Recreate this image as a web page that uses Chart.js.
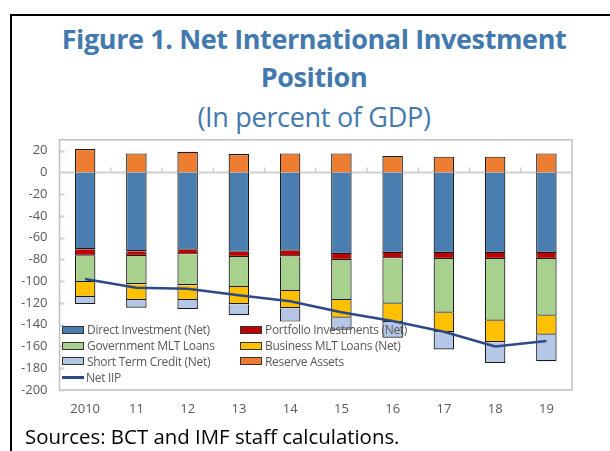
<!DOCTYPE html>
<html>
<head>
<meta charset="utf-8">
<script src="https://cdn.jsdelivr.net/npm/chart.js@4"></script>
<style>
  html, body { margin: 0; padding: 0; background: #fff; }
  body { width: 610px; height: 451px; position: relative; overflow: hidden; font-family: "Open Sans", sans-serif; }
  #frame { position: absolute; left: 10px; top: 14px; width: 620px; height: 460px; border-left: 2px solid #000; border-top: 2px solid #000; }
  .title { position: absolute; left: 12px; width: 604px; text-align: center; color: #4279AE; white-space: nowrap; }
  #t1 { top: 20px; font-size: 27px; font-weight: 700; letter-spacing: -0.4px; }
  #t2 { top: 58px; font-size: 27px; font-weight: 700; letter-spacing: -0.4px; }
  #t3 { top: 98px; font-size: 27px; font-weight: 400; letter-spacing: -0.3px; }
  #chart { position: absolute; left: 0; top: 120px; }
  #legend { position: absolute; left: 62px; top: 322px; display: grid; grid-template-columns: 178px 200px; font-size: 12px; letter-spacing: -0.3px; color: #595959; }
  .item { display: flex; align-items: center; height: 15.8px; white-space: nowrap; }
  .box { width: 20px; height: 6px; border: 1px solid #333; margin-right: 3px; flex: none; }
  .ln { width: 22px; height: 3px; margin-right: 2px; flex: none; }
  #src { position: absolute; left: 25px; top: 422px; font-size: 20.4px; color: #000; white-space: nowrap; }
</style>
</head>
<body>
<div id="frame"></div>
<div class="title" id="t1">Figure 1. Net International Investment</div>
<div class="title" id="t2">Position</div>
<div class="title" id="t3">(In percent of GDP)</div>
<canvas id="chart" width="610" height="305"></canvas>
<div id="legend"></div>
<div id="src">Sources: BCT and IMF staff calculations.</div>
<script>
// values, percent of GDP
const years = ["2010", "11", "12", "13", "14", "15", "16", "17", "18", "19"];
const directInv   = [-70.5, -72.5, -71, -73, -72, -75, -74, -74, -74, -74];
const portfolio   = [-6, -4.3, -4.3, -4.7, -5.3, -5.5, -5, -5.6, -5.6, -5.6];
const govLoans    = [-24.2, -26, -28.3, -27.7, -31.7, -36.7, -41.6, -49.3, -56.7, -52.1];
const bizLoans    = [-13.8, -14.4, -13.6, -15.7, -15.8, -16.3, -16.9, -17.9, -19.7, -17.5];
const shortTerm   = [-6.4, -7.1, -8.3, -10.1, -12.3, -11.1, -14.5, -16, -19.1, -24.4];
const reserves    = [21.5, 17.5, 19, 17, 17.5, 17.5, 15, 14.5, 14.5, 17.5];
const netIip      = [-98, -106, -107, -113, -118.5, -128.5, -136.5, -146.5, -160, -155];
const yTicks      = [-200, -180, -160, -140, -120, -100, -80, -60, -40, -20, 0, 20];

const barSeries = [
  { label: "Direct Investment (Net)", data: directInv, color: "#4A7EB0" },
  { label: "Portfolio Investments (Net)", data: portfolio, color: "#C00000" },
  { label: "Government MLT Loans", data: govLoans, color: "#A9D18E" },
  { label: "Business MLT Loans (Net)", data: bizLoans, color: "#FFC000" },
  { label: "Short Term Credit (Net)", data: shortTerm, color: "#B4C7E7" },
  { label: "Reserve Assets", data: reserves, color: "#ED7D31" }
];
const lineColor = "#2E4A86";

// plot box, zero line and small tick marks like the Excel original
const plotFrame = {
  id: "plotFrame",
  beforeDatasetsDraw(chart) {
    const { ctx, chartArea: a, scales: { x, y } } = chart;
    ctx.save();
    ctx.strokeStyle = "#BFBFBF";
    ctx.lineWidth = 1.5;
    ctx.strokeRect(a.left, a.top, a.width, a.height);
    const z = y.getPixelForValue(0);
    ctx.strokeStyle = "#D0D0D0";
    ctx.lineWidth = 2;
    ctx.beginPath();
    ctx.moveTo(a.left, z); ctx.lineTo(a.right, z);
    yTicks.forEach(v => {
      const py = Math.round(y.getPixelForValue(v)) + 0.5;
      ctx.moveTo(a.left, py); ctx.lineTo(a.left + 5, py);
    });
    ctx.stroke();
    ctx.lineWidth = 1.5;
    ctx.beginPath();
    for (let i = 1; i < years.length; i++) {
      const px = (x.getPixelForTick(i - 1) + x.getPixelForTick(i)) / 2;
      ctx.moveTo(px, z); ctx.lineTo(px, z - 5);
    }
    ctx.stroke();
    ctx.restore();
  }
};

const chart = new Chart(document.getElementById("chart"), {
  type: "bar",
  data: {
    labels: years,
    datasets: [
      {
        type: "line",
        label: "Net IIP",
        data: netIip,
        borderColor: lineColor,
        borderWidth: 2.5,
        pointRadius: 0,
        tension: 0,
        stack: "iip",
        order: 0
      },
      ...barSeries.map(s => ({
        label: s.label,
        data: s.data,
        backgroundColor: s.color,
        borderColor: "#1A1A1A",
        borderWidth: 1.2,
        barPercentage: 0.4,
        categoryPercentage: 1,
        stack: "s1",
        order: 1
      }))
    ]
  },
  options: {
    responsive: false,
    animation: false,
    layout: { padding: { top: 7.5, right: 38, left: 0, bottom: 0 } },
    plugins: { legend: { display: false }, tooltip: { enabled: false } },
    scales: {
      x: {
        stacked: true,
        grid: { display: false, drawTicks: false },
        border: { display: false },
        ticks: { color: "#595959", font: { family: "Open Sans", size: 13 }, padding: 11, maxRotation: 0 },
        afterFit(s) { s.height = 35; }
      },
      y: {
        stacked: true,
        min: -200,
        max: 30,
        grid: { display: false, drawTicks: false },
        border: { display: false },
        afterBuildTicks(s) { s.ticks = yTicks.map(v => ({ value: v })); },
        ticks: { color: "#595959", font: { family: "Open Sans", size: 13 }, padding: 12 },
        afterFit(s) { s.width = 59.5; }
      }
    }
  },
  plugins: [plotFrame]
});

// two-column legend inside the plot, in the original's order
const legend = document.getElementById("legend");
barSeries.forEach(s => {
  const el = document.createElement("div");
  el.className = "item";
  el.innerHTML = `<span class="box" style="background:${s.color}"></span>${s.label}`;
  legend.appendChild(el);
});
const iipItem = document.createElement("div");
iipItem.className = "item";
iipItem.innerHTML = `<span class="ln" style="background:${lineColor}"></span>Net IIP`;
legend.appendChild(iipItem);
</script>
</body>
</html>
